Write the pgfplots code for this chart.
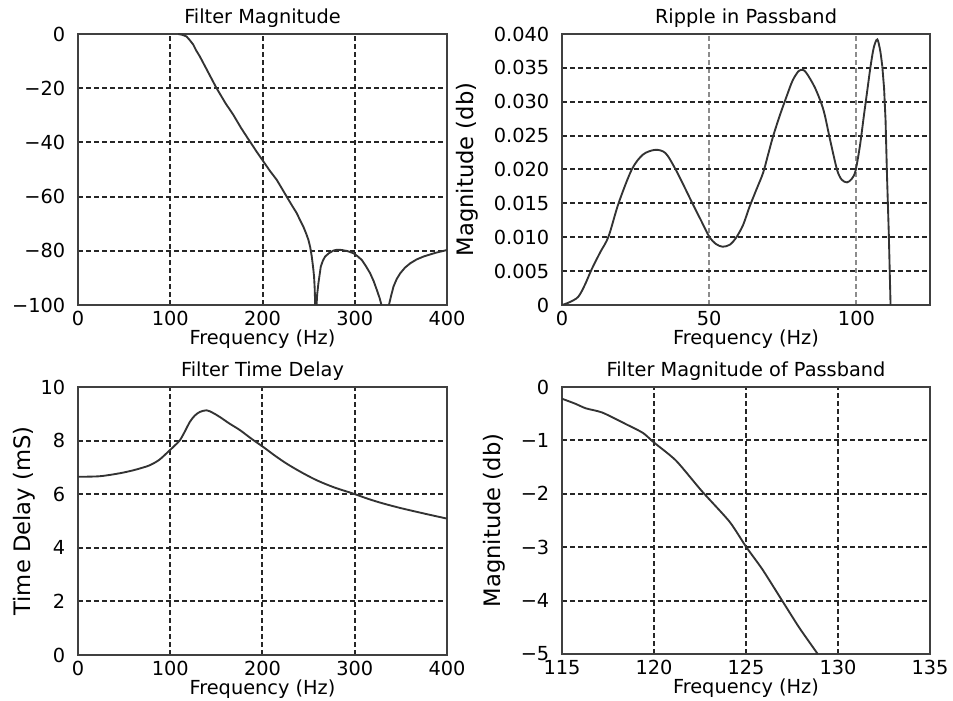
\documentclass[border=0pt]{standalone}
\usepackage{fontspec}
\setmainfont{DejaVu Sans}
\usepackage{pgfplots}
\pgfplotsset{compat=1.18}
\pgfplotsset{
  every axis/.append style={
    scale only axis,
    anchor=south west,
    font=\fontsize{14.5}{16}\selectfont,
    axis line style={line width=1.8pt, black!75},
    grid=major,
    major grid style={line width=1.5pt, black!85, dash pattern=on 4pt off 2pt},
    major tick length=0pt,
    scaled ticks=false,
    xticklabel style={anchor=center, yshift=-10pt},
    yticklabel style={xshift=-6pt},
    xlabel style={at={(axis description cs:0.5,0)}, anchor=center, yshift=-25.5pt},
    ylabel style={font=\fontsize{17}{19}\selectfont},
    title style={yshift=-5pt},
    clip=true,
  },
  curve/.style={line width=1.4pt, black!80},
}
\begin{document}
\begin{tikzpicture}
\useasboundingbox (0,0) rectangle (714.75pt,525pt);
% Top left
\begin{axis}[at={(58.5pt,296.25pt)}, width=276.75pt, height=203.25pt,
  xmin=0, xmax=400, ymin=-100, ymax=0,
  xtick={0,100,200,300,400}, xticklabels={0,100,200,300,400},
  ytick={-100,-80,-60,-40,-20,0}, yticklabels={−100,−80,−60,−40,−20,0},
  title={Filter Magnitude}, xlabel={Frequency (Hz)}]
\addplot[curve] coordinates {
(108.6,0) (113,-0.3) (117.6,-0.9) (121,-2.2) (124.9,-3.9) (128,-6.0) (132.1,-8.3) (140,-13.4) (150.2,-20)
(160,-25.6) (168.3,-29.8) (177,-34.8) (186.4,-39.7) (194,-43.6) (200.9,-47.0) (208,-50.5) (215.4,-53.8)
(221,-57.0) (226.2,-60) (232,-63.3) (237.1,-66.1) (241,-68.9) (244.3,-71.1) (247.5,-73.8) (249.8,-76)
(251.8,-78.8) (253.4,-82.1) (255,-86.5) (255.9,-89.5) (256.6,-94) (257.2,-101) (258.4,-101) (259.3,-96)
(260.6,-92) (263.2,-85.8) (265.5,-83.6) (267.9,-82.1) (272,-80.9) (276.9,-79.9) (281,-79.6) (286,-79.7)
(292,-80.1) (298.6,-80.9) (303,-82.0) (307.7,-83.4) (312,-85.6) (316.7,-88.3) (320.5,-91.2) (324,-94.5)
(327,-97.5) (329.4,-100.5) (336.7,-100.5) (339.5,-96.5) (342,-93.2) (345.5,-90.4) (349.3,-88.3) (354.5,-86.2)
(360.2,-84.6) (367,-83.2) (374.7,-82.1) (387,-80.8) (400,-79.7)};
\end{axis}
% Top right
\begin{axis}[at={(421.5pt,296.25pt)}, width=276pt, height=203.25pt,
  xmin=0, xmax=125, ymin=0, ymax=0.04,
  xtick={0,50,100}, xticklabels={0,50,100},
  ytick={0,0.005,0.01,0.015,0.02,0.025,0.03,0.035,0.04},
  yticklabels={0,0.005,0.010,0.015,0.020,0.025,0.030,0.035,0.040},
  major x grid style={line width=1.5pt, black!45, dash pattern=on 4pt off 2pt},
  title={Ripple in Passband}, xlabel={Frequency (Hz)},
  ylabel={Magnitude (db)},
  ylabel style={at={(axis description cs:0,0.5)}, anchor=center, yshift=71pt}]
\addplot[curve, smooth, tension=0.5] coordinates {
(0,0) (2.5,0.0004) (5.5,0.0012) (7.8,0.003) (10,0.0052) (13,0.0078) (15.8,0.0101) (19.2,0.015)
(23.7,0.020) (27.5,0.0222) (31.7,0.0229) (35.2,0.0224) (38.6,0.020) (41.5,0.0175) (44.3,0.015)
(47.2,0.0125) (50,0.0101) (52.3,0.0090) (54.6,0.0086) (57,0.0089) (59.1,0.0099) (61.5,0.0118)
(63.7,0.0145) (66,0.0170) (68.3,0.0195) (70,0.0222) (71.7,0.0249) (74,0.0280) (76.3,0.0308)
(78.3,0.0331) (80.3,0.0345) (81.8,0.0347) (83.1,0.0342) (86,0.0320) (88.8,0.0288) (91,0.0245)
(93.4,0.020) (95,0.0185) (96.8,0.0181) (98.4,0.0186) (99.7,0.0198) (101.2,0.0235) (102.5,0.0278)
(103.8,0.0320) (104.8,0.0352) (105.9,0.0380) (107.1,0.0392) (108.1,0.0375) (108.8,0.0352)};
\addplot[curve] coordinates {
(108.8,0.0352) (109.4,0.032) (109.9,0.0273) (110.4,0.019) (111,0.0106) (111.6,0)};
\end{axis}
% Bottom left
\begin{axis}[at={(58.5pt,33.75pt)}, width=276.75pt, height=201pt,
  xmin=0, xmax=400, ymin=0, ymax=10,
  xtick={0,100,200,300,400}, xticklabels={0,100,200,300,400},
  ytick={0,2,4,6,8,10}, yticklabels={0,2,4,6,8,10},
  title={Filter Time Delay}, xlabel={Frequency (Hz)},
  ylabel={Time Delay (mS)},
  ylabel style={at={(axis description cs:0,0.5)}, anchor=center, yshift=40pt}]
\addplot[curve, smooth, tension=0.5] coordinates {
(0,6.65) (23.5,6.67) (45,6.78) (59.7,6.89) (70,6.99) (77.8,7.08) (88,7.28) (99.5,7.64) (105,7.82)
(110.4,8.01) (116,8.35) (121.3,8.70) (126.5,8.93) (132.1,9.07) (139.4,9.13) (146,9.04) (153.8,8.88)
(164,8.64) (175.6,8.39) (188,8.07) (200.9,7.76) (213,7.45) (226.2,7.14) (242,6.82) (258.8,6.52)
(278,6.25) (298.6,6.02) (315,5.82) (331.2,5.65) (350,5.48) (367.4,5.34) (384,5.21) (400,5.09)};
\end{axis}
% Bottom right
\begin{axis}[at={(421.5pt,34.5pt)}, width=276pt, height=200.25pt,
  xmin=115, xmax=135, ymin=-5, ymax=0,
  xtick={115,120,125,130,135}, xticklabels={115,120,125,130,135},
  ytick={-5,-4,-3,-2,-1,0}, yticklabels={−5,−4,−3,−2,−1,0},
  title={Filter Magnitude of Passband}, xlabel={Frequency (Hz)},
  ylabel={Magnitude (db)},
  ylabel style={at={(axis description cs:0,0.5)}, anchor=center, yshift=51pt}]
\addplot[curve, smooth, tension=0.4] coordinates {
(115,-0.22) (115.7,-0.31) (116.3,-0.40) (117.2,-0.48) (118.5,-0.70) (119.4,-0.86) (120.0,-1.04)
(121.2,-1.38) (122.6,-1.95) (124.1,-2.52) (125.0,-2.99) (125.9,-3.42) (127.0,-4.02) (127.9,-4.51)
(128.9,-5.0)};
\end{axis}
\end{tikzpicture}
\end{document}
